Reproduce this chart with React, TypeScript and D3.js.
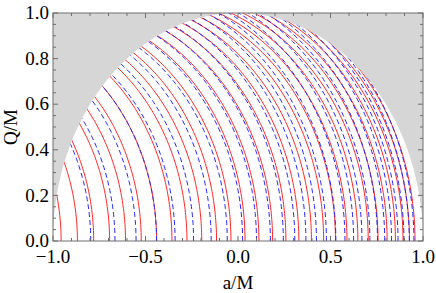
import * as d3 from "d3";

const W = 436;
const H = 293;
const M = { top: 13, right: 13, bottom: 52, left: 53 };

// where each solid (red) contour meets Q = 0
const redIntercepts = [
  -0.956, -0.868, -0.78, -0.694, -0.608, -0.523, -0.44, -0.357, -0.276, -0.196,
  -0.116, -0.038, 0.038, 0.113, 0.187, 0.259, 0.329, 0.397, 0.463, 0.527,
  0.589, 0.648, 0.704, 0.757, 0.806, 0.851, 0.892, 0.927, 0.957,
];
// same for the dashed (blue) contours
const blueIntercepts = [
  -0.796, -0.665, -0.551, -0.44, -0.34, -0.24, -0.145, -0.058, 0.025, 0.1,
  0.175, 0.245, 0.307, 0.367, 0.424, 0.478, 0.529, 0.578, 0.625, 0.67, 0.713,
  0.754, 0.793, 0.83, 0.865, 0.897, 0.926, 0.951,
];
// how wide the arcs bow, by intercept (radius in a/M units)
const redBendAt = [-1, 0, 0.5, 1];
const redBendRadius = [0.85, 1.0, 1.06, 1.1];
const blueBendAt = [-1, 0, 0.5, 0.75, 1];
const blueBendRadius = [0.85, 1.0, 1.1, 1.13, 1.15];

const xLabels = [-1, -0.5, 0, 0.5, 1];
const yLabels = [0, 0.2, 0.4, 0.6, 0.8, 1];

const fmt = (v: number) => d3.format(".1f")(v).replace("-", "\u2212");

export default function App() {
  const iw = W - M.left - M.right;
  const ih = H - M.top - M.bottom;
  const x = d3.scaleLinear().domain([-1, 1]).range([0, iw]);
  const y = d3.scaleLinear().domain([0, 1]).range([ih, 0]);

  const line = d3
    .line<[number, number]>()
    .x((d) => x(d[0]))
    .y((d) => y(d[1]));

  const angles = d3.range(0, 181).map((i) => (i / 180) * Math.PI);
  const disk = line(angles.map((t) => [Math.cos(t), Math.sin(t)] as [number, number])) + "Z";

  const redBend = d3.scaleLinear().domain(redBendAt).range(redBendRadius);
  const blueBend = d3.scaleLinear().domain(blueBendAt).range(blueBendRadius);

  const arc = (a0: number, r: number) => {
    const c = a0 - r;
    const pts = d3
      .range(0, 121)
      .map((i) => (i / 120) * (Math.PI / 2))
      .map((t) => [c + r * Math.cos(t), r * Math.sin(t)] as [number, number]);
    return line(pts) ?? "";
  };

  const frame = "#6e6e6e";
  const font = "'Liberation Serif', 'DejaVu Serif', serif";

  return (
    <div style={{ position: "absolute", left: 0, top: 0 }}>
      <svg width={W} height={H} style={{ display: "block", background: "#fff" }}>
        <defs>
          <clipPath id="disk">
            <path d={disk} />
          </clipPath>
        </defs>
        <g transform={`translate(${M.left},${M.top})`}>
          <rect width={iw} height={ih} fill="#d6d6d6" />
          <path d={disk} fill="#fff" />

          <g clipPath="url(#disk)" fill="none">
            {redIntercepts.map((a0, i) => (
              <path key={"r" + i} d={arc(a0, redBend(a0))} stroke="#ff2424" strokeWidth={1} />
            ))}
            {blueIntercepts.map((a0, i) => (
              <path
                key={"b" + i}
                d={arc(a0, blueBend(a0))}
                stroke="#2424ff"
                strokeWidth={1}
                strokeDasharray="5,3"
              />
            ))}
          </g>

          {/* frame */}
          <rect width={iw} height={ih} fill="none" stroke={frame} strokeWidth={1} />
          {x.ticks(20).map((t) => {
            const major = xLabels.some((v) => Math.abs(v - t) < 1e-9);
            const len = major ? 5 : 3;
            return (
              <g key={"xt" + t} stroke={frame}>
                <line x1={x(t)} x2={x(t)} y1={ih} y2={ih - len} />
                <line x1={x(t)} x2={x(t)} y1={0} y2={len} />
              </g>
            );
          })}
          {y.ticks(20).map((t) => {
            const major = yLabels.some((v) => Math.abs(v - t) < 1e-9);
            const len = major ? 5 : 3;
            return (
              <g key={"yt" + t} stroke={frame}>
                <line x1={0} x2={len} y1={y(t)} y2={y(t)} />
                <line x1={iw} x2={iw - len} y1={y(t)} y2={y(t)} />
              </g>
            );
          })}

          <g fontFamily={font} fontSize={19} fill="#000">
            {xLabels.map((v) => (
              <text key={"xl" + v} x={x(v)} y={ih + 22} textAnchor="middle">
                {fmt(v)}
              </text>
            ))}
            {yLabels.map((v) => (
              <text key={"yl" + v} x={-4} y={y(v)} dy="0.33em" textAnchor="end">
                {fmt(v)}
              </text>
            ))}
            <text x={iw / 2} y={ih + 48} textAnchor="middle">
              a/M
            </text>
            <text transform={`translate(${-36},${ih / 2}) rotate(-90)`} textAnchor="middle">
              Q/M
            </text>
          </g>
        </g>
      </svg>
    </div>
  );
}
